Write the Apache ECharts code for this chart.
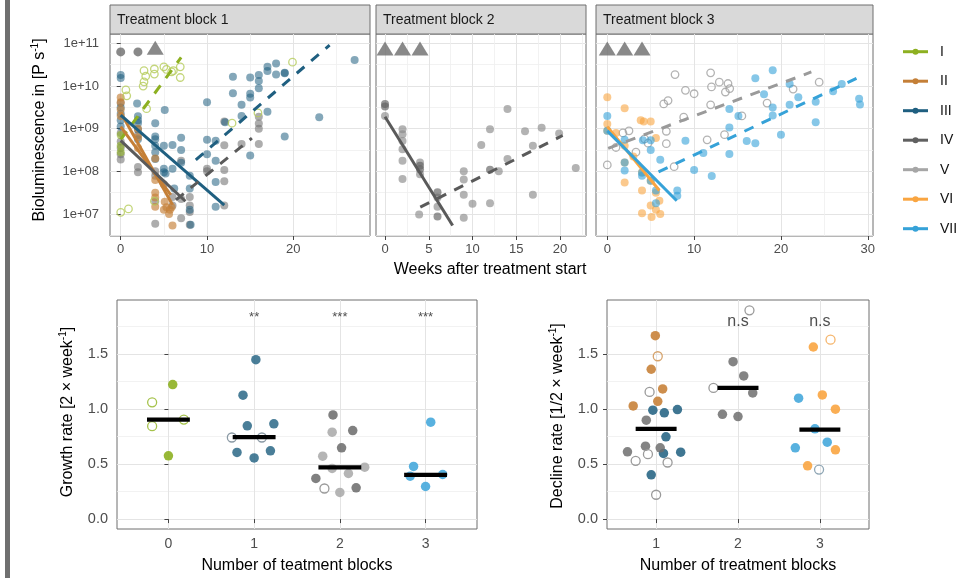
<!DOCTYPE html>
<html>
<head>
<meta charset="utf-8">
<script src="https://cdn.jsdelivr.net/npm/echarts@6/dist/echarts.min.js"></script>
<style>
html, body { margin: 0; padding: 0; background: #fff; }
#chart { width: 970px; height: 578px; }
</style>
</head>
<body>
<div id="chart"></div>
<script>
// ---- groups ----
var groupNames = ['I', 'II', 'III', 'IV', 'V', 'VI', 'VII'];
var groupColors = ['#8db021', '#c47f37', '#1f5f80', '#606060', '#a6a6a6', '#f9a541', '#36a2d8'];

// ---- top panels: [weeks, log10(bioluminescence)] ----
var b1_I = [[0, 8.45], [0, 8.6], [0, 8.85]];
var b1_I_open = [[2.7, 10.36], [2.9, 10.23], [2.7, 10.1], [2.6, 10.0], [3.9, 10.4], [3.9, 10.28], [5.0, 10.45], [5.3, 10.39],
  [5.9, 10.33], [6.1, 10.36], [6.9, 10.45], [6.9, 10.2], [0.6, 9.91], [0.7, 9.77], [3.0, 9.47], [0.0, 7.04], [0.9, 7.12],
  [19.9, 10.56], [15.9, 9.37], [12.9, 9.13], [3.9, 7.3]];
var b1_II = [[0, 9.73], [0, 9.62], [0, 9.45], [0, 9.3], [2, 9.0], [2, 8.8], [2, 8.55], [4, 8.3], [4, 7.8], [4, 7.39], [4, 7.17],
  [4, 7.5], [5.1, 7.29], [5, 7.1], [5.3, 7.16], [5.7, 7.1], [5.9, 7.16], [6, 6.73], [5.6, 7.0]];
var b1_III = [[0, 10.26], [0, 10.19], [0, 9.5], [0, 9.35], [0, 9.2], [0, 9.05], [1.9, 9.59], [2, 9.29], [2, 9.13], [2, 8.98],
  [2, 8.75], [2, 9.2], [4, 9.13], [4, 8.82], [4, 8.75], [4, 8.6], [4, 8.29], [4, 8.45], [5.1, 9.44], [5, 8.6], [5, 8.06],
  [5, 7.98], [5.2, 7.95], [6, 8.62], [6, 8.06], [6.2, 7.6], [7, 8.79], [7, 8.5], [7, 8.2], [8, 7.9], [8, 7.6], [8, 7.1],
  [8.1, 6.75], [10, 9.62], [10, 8.74], [10, 8.4], [11, 8.72], [11, 8.25], [11, 7.75], [11, 7.17], [12.1, 9.15], [13, 10.22],
  [13, 9.83], [14, 9.56], [14, 9.3], [15, 10.2], [15, 9.82], [15, 9.73], [15, 8.37], [16, 10.26], [16, 10.12], [16, 9.95],
  [17, 10.45], [17, 10.35], [17, 9.4], [18, 10.53], [18, 10.27], [19, 10.31], [19, 10.3], [19, 8.82], [23, 9.27], [27.1, 10.61]];
var b1_IV = [[0, 9.6], [0, 8.9], [0, 8.55], [0, 8.4], [0, 8.28], [0, 8.7], [2, 8.1], [2, 7.98], [2, 8.85], [4, 8.0], [4, 7.9],
  [4, 6.77], [4, 7.3], [5, 7.7], [6, 7.4], [6, 7.2], [7, 8.25], [7, 7.35], [7, 6.9], [8, 7.4], [8, 7.2], [8, 7.05], [8, 6.75],
  [10, 8.06], [10, 8.0], [12, 9.17], [12, 8.61], [12, 8.03], [12, 7.77], [12, 7.2], [14, 8.64], [16, 9.12], [16, 9.0],
  [16, 8.64], [16, 9.28]];
var b1_I_fit = [[0, 8.75], [7, 10.67]];
var b1_II_fitA = [[0, 9.38], [6, 7.22]];
var b1_II_fitB = [[0, 9.05], [5.8, 7.45]];
var b1_III_decline = [[0, 9.32], [12, 7.21]];
var b1_III_growth = [[8.7, 8.27], [24.2, 10.96]];
var b1_IV_decline = [[0, 8.72], [7.5, 7.3]];
var b1_IV_growth = [[6.4, 7.33], [15.2, 8.78]];
var b1_circles = [0, 2];
var b1_triangles = [4];

var b2_IV = [[0, 9.58], [0, 9.52], [4, 8.13], [4, 8.05], [6, 6.94], [12, 8.04], [6, 7.51]];
var b2_V = [[0, 9.3], [2, 8.99], [2, 8.87], [2, 8.71], [2, 8.52], [2, 8.25], [2, 7.82], [4, 8.21], [4, 7.93], [6, 7.39],
  [6, 7.17], [3.9, 6.99], [9, 8.0], [9, 7.81], [9, 7.45], [9, 6.91], [10, 7.24], [11, 8.62], [12, 8.99], [12, 7.25],
  [13, 8.0], [14, 9.46], [14, 8.29], [16, 8.94], [16.9, 8.6], [16.9, 7.45], [17.9, 9.02], [19.9, 8.89], [21.8, 8.08]];
var b2_IV_decline = [[0, 9.28], [7.73, 6.73]];
var b2_IV_growth = [[4.03, 7.16], [20.3, 8.84]];
var b2_triangles = [0, 2, 4];

var b3_VI = [[0, 9.74], [0, 9.11], [0, 8.95], [2, 9.48], [3.85, 9.2], [4.2, 9.17], [5, 9.17], [5.6, 8.78], [2, 8.21], [2, 7.74],
  [4, 7.98], [5, 7.78], [4, 7.55], [5.6, 7.5], [6, 7.31], [5, 7.2], [5.6, 7.1], [4, 7.02], [5.1, 6.93], [6.1, 7.0], [1, 8.9],
  [2, 8.6], [3, 8.35]];
var b3_VII = [[0, 9.3], [0, 8.95], [2, 8.74], [2, 8.21], [2, 8.02], [4.1, 8.73], [5, 8.73], [5, 8.5], [6.1, 8.27], [4, 7.97],
  [4, 7.9], [5, 7.78], [5.6, 7.55], [5.6, 7.25], [8.06, 7.55], [8.06, 7.43], [9, 8.72], [10, 8.03], [11.06, 8.43], [12.03, 7.89],
  [14.06, 9.46], [14.06, 9.03], [14.06, 8.41], [15.1, 9.3], [16.06, 8.71], [17.05, 10.18], [17.05, 8.66], [18.05, 9.81],
  [19.05, 10.37], [19.05, 9.5], [19.05, 9.31], [20, 8.86], [21, 10.05], [21, 9.56], [22, 9.74], [24, 9.63], [24, 9.15],
  [26, 9.88], [27, 10.05], [29, 9.7], [29.1, 9.57]];
var b3_V_open = [[0, 8.15], [1, 8.56], [2.5, 8.95], [1.8, 8.9], [3.3, 8.45], [4.3, 8.76], [4.7, 8.66], [6.5, 9.58], [7, 9.66],
  [7.8, 10.27], [6.8, 8.94], [6.8, 8.65], [7.7, 8.11], [9, 9.9], [8.8, 9.27], [11.9, 10.31], [12, 9.98], [12.9, 10.09],
  [13.9, 10.06], [13.6, 9.86], [14.1, 9.94], [11.9, 9.56], [11.5, 8.74], [13.5, 8.86], [10, 9.82], [15.5, 9.3], [18.4, 9.6],
  [21.4, 9.93], [24.4, 10.09]];
var b3_VI_decline = [[0, 9.05], [6, 7.55]];
var b3_VII_decline = [[0, 8.95], [8, 7.31]];
var b3_V_growth = [[0.1, 8.54], [23.5, 10.33]];
var b3_VII_growth = [[5.9, 7.99], [28.7, 10.18]];
var b3_triangles = [0, 2, 4];

// ---- bottom left: growth rate, [jittered number of blocks, rate] ----
var growth_I = [[0.05, 1.222], [0.0, 0.575]];
var growth_I_open = [[-0.19, 1.061], [-0.19, 0.844], [0.18, 0.904]];
var growth_III = [[1.02, 1.448], [0.87, 1.125], [0.92, 0.847], [1.23, 0.865], [0.80, 0.605], [1.0, 0.556], [1.19, 0.62]];
var growth_III_open = [[0.74, 0.741], [1.09, 0.741]];
var growth_IV = [[1.92, 0.946], [2.15, 0.804], [2.02, 0.647], [1.72, 0.369], [2.19, 0.284]];
var growth_V = [[1.91, 0.789], [1.8, 0.571], [1.91, 0.46], [2.1, 0.414], [2.29, 0.472], [2.0, 0.242]];
var growth_V_open = [[1.82, 0.278]];
var growth_VII = [[3.06, 0.88], [2.86, 0.478], [2.82, 0.39], [3.2, 0.405], [3.0, 0.296]];
var growthCats = [0, 1, 2, 3];
var growthMedian = [0.904, 0.744, 0.469, 0.402];
var growthSig = ['', '**', '***', '***'];

// ---- bottom right: decline rate ----
var decline_II = [[0.99, 1.666], [0.94, 1.361], [1.08, 1.182], [1.02, 1.07], [0.72, 1.028]];
var decline_II_open = [[1.02, 1.479]];
var decline_III = [[0.96, 0.989], [1.10, 0.965], [1.26, 0.995], [1.12, 0.747], [1.09, 0.596], [1.30, 0.608], [0.94, 0.402]];
var decline_IV = [[0.88, 0.898], [0.87, 0.662], [1.05, 0.647], [0.65, 0.611], [1.94, 1.43], [2.07, 1.30], [2.18, 1.146],
  [1.81, 0.952], [2.0, 0.931]];
var decline_V_open = [[0.92, 1.155], [0.90, 0.59], [0.75, 0.529], [1.14, 0.514], [1.0, 0.221], [2.14, 1.896], [1.70, 1.191]];
var decline_VI = [[2.92, 1.563], [3.03, 1.128], [3.19, 0.998], [3.19, 0.629], [2.85, 0.484]];
var decline_VI_open = [[3.13, 1.63]];
var decline_VII = [[2.74, 1.098], [2.94, 0.82], [2.70, 0.647], [3.09, 0.699]];
var decline_VII_open = [[2.99, 0.45]];
var declineCats = [1, 2, 3];
var declineMedian = [0.819, 1.191, 0.813];
var declineSig = ['', 'n.s', 'n.s'];

// ---- axes ----
var topYMajor = [7, 8, 9, 10, 11];
var topYMinor = [6.5, 7.5, 8.5, 9.5, 10.5];
var botYMajor = [0, 0.5, 1, 1.5];
var botYMinor = [0.25, 0.75, 1.25, 1.75];

var FONT = "'Liberation Sans', Arial, sans-serif";
var C = {};
groupNames.forEach(function (n, i) { C[n] = groupColors[i]; });

var grids = [
  {left: 110, top: 34, width: 260, height: 202},
  {left: 376, top: 34, width: 210, height: 202},
  {left: 596, top: 34, width: 277, height: 202},
  {left: 117, top: 300, width: 360, height: 229},
  {left: 607, top: 300, width: 262, height: 229}
];
var xRange = [[-1.24, 28.88], [-1.03, 22.97], [-1.3, 30.6], [-0.6, 3.6], [0.4, 3.6]];
var xMajor = [[0, 10, 20], [0, 5, 10, 15, 20], [0, 10, 20, 30], growthCats, declineCats];
var xMinor = [[5, 15, 25], [2.5, 7.5, 12.5, 17.5, 22.5], [5, 15, 25], null, null];

var xAxes = [], yAxes = [];
grids.forEach(function (g, gi) {
  g.show = true;
  g.backgroundColor = '#fff';
  g.borderColor = '#6e6e6e';
  g.borderWidth = 1;
  g.containLabel = false;
  var top = gi < 3;
  // major x
  xAxes.push({
    type: 'value', gridIndex: gi, min: xRange[gi][0], max: xRange[gi][1],
    axisLine: {show: false},
    axisTick: {show: true, length: 4, customValues: xMajor[gi], lineStyle: {color: '#444'}},
    axisLabel: {customValues: xMajor[gi], color: '#4d4d4d', fontSize: top ? 13 : 14, fontFamily: FONT, margin: top ? 7 : 8},
    splitLine: {show: true, lineStyle: {color: '#e4e4e4', width: 1}}
  });
  // minor x
  xAxes.push({
    type: 'value', gridIndex: gi, min: xRange[gi][0], max: xRange[gi][1],
    axisLine: {show: false},
    axisTick: {show: false, customValues: xMinor[gi] || []},
    axisLabel: {show: false},
    splitLine: {show: !!xMinor[gi], lineStyle: {color: '#efefef', width: 0.8}}
  });
  var yMaj = top ? topYMajor : botYMajor;
  var yMin = top ? topYMinor : botYMinor;
  var showY = gi === 0 || gi > 2;
  yAxes.push({
    type: 'value', gridIndex: gi, min: top ? 6.485 : -0.09, max: top ? 11.22 : 1.99,
    axisLine: {show: false},
    axisTick: {show: showY, length: 4, customValues: yMaj, lineStyle: {color: '#444'}},
    axisLabel: {
      show: showY, customValues: yMaj, color: '#4d4d4d', fontSize: top ? 13 : 14.5, fontFamily: FONT, margin: top ? 11 : 9,
      formatter: top ? function (v) { return '1e+' + (v < 10 ? '0' + v : v); } : function (v) { return v.toFixed(1); }
    },
    splitLine: {show: true, lineStyle: {color: '#e4e4e4', width: 1}}
  });
  yAxes.push({
    type: 'value', gridIndex: gi, min: top ? 6.485 : -0.09, max: top ? 11.22 : 1.99,
    axisLine: {show: false},
    axisTick: {show: false, customValues: yMin},
    axisLabel: {show: false},
    splitLine: {show: true, lineStyle: {color: '#efefef', width: 0.8}}
  });
});

var series = [];
function pts(gi, data, color, open, size, alpha) {
  series.push({
    type: 'scatter', xAxisIndex: gi * 2, yAxisIndex: gi * 2, data: data, symbolSize: size, silent: true, z: 3,
    itemStyle: open
      ? {color: 'rgba(255,255,255,0)', borderColor: color, borderWidth: 1.3, opacity: Math.min(1, alpha + 0.2)}
      : {color: color, opacity: alpha}
  });
}
function fit(gi, data, color, dashed) {
  series.push({
    type: 'line', xAxisIndex: gi * 2, yAxisIndex: gi * 2, data: data, symbol: 'none', silent: true, z: 4,
    lineStyle: {color: color, width: 3, type: dashed ? [10, 9] : 'solid', cap: 'butt'}
  });
}
function markers(gi, weeks, shape, level) {
  series.push({
    type: 'scatter', xAxisIndex: gi * 2, yAxisIndex: gi * 2, silent: true, z: 5,
    data: weeks.map(function (w) { return [w, level]; }),
    symbol: shape, symbolSize: shape === 'triangle' ? [17, 14] : 9,
    itemStyle: {color: '#6b6b6b'}
  });
}

// block 1
pts(0, b1_IV, '#6a6a6a', false, 8, 0.55);
pts(0, b1_III, C.III, false, 8, 0.55);
pts(0, b1_II, C.II, false, 8, 0.65);
pts(0, b1_I, C.I, false, 8, 0.6);
pts(0, b1_I_open, '#b5cc5a', true, 7.5, 0.6);
fit(0, b1_I_fit, C.I, true);
fit(0, b1_II_fitA, C.II, false);
fit(0, b1_II_fitB, C.II, false);
fit(0, b1_III_decline, C.III, false);
fit(0, b1_III_growth, C.III, true);
fit(0, b1_IV_decline, '#5a5a5a', false);
fit(0, b1_IV_growth, '#5a5a5a', true);
markers(0, b1_circles, 'circle', 10.8);
markers(0, b1_triangles, 'triangle', 10.9);

// block 2
pts(1, b2_V, '#8a8a8a', false, 8, 0.65);
pts(1, b2_IV, '#5f5f5f', false, 8, 0.65);
fit(1, b2_IV_decline, '#5a5a5a', false);
fit(1, b2_IV_growth, '#5a5a5a', true);
markers(1, b2_triangles, 'triangle', 10.88);

// block 3
pts(2, b3_V_open, '#9a9a9a', true, 7.5, 0.55);
pts(2, b3_VI, C.VI, false, 8, 0.6);
pts(2, b3_VII, C.VII, false, 8, 0.6);
fit(2, b3_VI_decline, C.VI, false);
fit(2, b3_VII_decline, C.VII, false);
fit(2, b3_V_growth, '#9a9a9a', true);
fit(2, b3_VII_growth, C.VII, true);
markers(2, b3_triangles, 'triangle', 10.88);

// growth rate
pts(3, growth_I, C.I, false, 9.5, 0.9);
pts(3, growth_I_open, '#a5c24a', true, 9, 0.8);
pts(3, growth_III, '#2a6786', false, 9.5, 0.85);
pts(3, growth_III_open, '#8b9aa5', true, 9, 0.8);
pts(3, growth_IV, '#6a6a6a', false, 9.5, 0.85);
pts(3, growth_V, '#a8a8a8', false, 9.5, 0.85);
pts(3, growth_V_open, '#9a9a9a', true, 9, 0.8);
pts(3, growth_VII, '#46a9dc', false, 9.5, 0.9);

// decline rate
pts(4, decline_II, '#c8823a', false, 9.5, 0.9);
pts(4, decline_II_open, '#d6a36c', true, 9, 0.8);
pts(4, decline_III, '#2a6786', false, 9.5, 0.9);
pts(4, decline_IV, '#6f6f6f', false, 9.5, 0.85);
pts(4, decline_V_open, '#9a9a9a', true, 9, 0.8);
pts(4, decline_VI, '#f9a541', false, 9.5, 0.9);
pts(4, decline_VI_open, '#f5b56c', true, 9, 0.8);
pts(4, decline_VII, '#46a9dc', false, 9.5, 0.9);
pts(4, decline_VII_open, '#8fa6b5', true, 9, 0.8);

function medians(gi, cats, vals) {
  cats.forEach(function (c, i) {
    series.push({
      type: 'line', xAxisIndex: gi * 2, yAxisIndex: gi * 2, symbol: 'none', silent: true, z: 6,
      data: [[c - 0.25, vals[i]], [c + 0.25, vals[i]]],
      lineStyle: {color: '#000', width: 4.3, cap: 'butt'}
    });
  });
}
function sig(gi, cats, labels, level, size) {
  series.push({
    type: 'scatter', xAxisIndex: gi * 2, yAxisIndex: gi * 2, silent: true, z: 6, symbolSize: 1,
    itemStyle: {color: 'rgba(0,0,0,0)'},
    data: cats.map(function (c, i) { return {value: [c, level], name: labels[i]}; }),
    label: {show: true, position: 'inside', formatter: '{b}', color: '#222', fontSize: size, fontFamily: FONT}
  });
}
medians(3, growthCats, growthMedian);
medians(4, declineCats, declineMedian);
sig(3, growthCats, growthSig, 1.83, 13);
sig(4, declineCats, declineSig, 1.79, 16);

// ---- graphics: strips, titles, legend ----
var graphics = [];
graphics.push({type: 'rect', shape: {x: 5, y: 0, width: 5, height: 578}, style: {fill: '#707070'}, silent: true});
var strips = ['Treatment block 1', 'Treatment block 2', 'Treatment block 3'];
strips.forEach(function (s, i) {
  var g = grids[i];
  graphics.push({type: 'rect', shape: {x: g.left, y: 5, width: g.width, height: 29},
    style: {fill: '#d9d9d9', stroke: '#6e6e6e', lineWidth: 1}, silent: true});
  graphics.push({type: 'text', x: g.left + 7, y: 20, silent: true,
    style: {text: s, fill: '#1a1a1a', fontSize: 14, fontFamily: FONT, verticalAlign: 'middle'}});
});
function title(x, y, parts, rot) {
  graphics.push({type: 'text', x: x, y: y, rotation: rot || 0, silent: true,
    style: {text: parts, fill: '#000', fontSize: 16, fontFamily: FONT, align: 'center', verticalAlign: 'middle', lineHeight: 20,
      rich: {sup: {fontSize: 10, fontFamily: FONT, fill: '#000', verticalAlign: 'top', lineHeight: 11}}}});
}
title(490, 270, 'Weeks after treatment start');
title(40, 130, 'Bioluminescence in [P s{sup|-1}]', Math.PI / 2);
title(297, 566, 'Number of teatment blocks');
title(738, 566, 'Number of treatment blocks');
title(68, 412, 'Growth rate [2 \u00d7 week{sup|-1}]', Math.PI / 2);
title(558, 416, 'Decline rate [1/2 \u00d7 week{sup|-1}]', Math.PI / 2);

groupNames.forEach(function (n, i) {
  var y = 51.7 + i * 29.5;
  graphics.push({type: 'line', shape: {x1: 903, y1: y, x2: 928, y2: y}, style: {stroke: groupColors[i], lineWidth: 3}, silent: true});
  graphics.push({type: 'circle', shape: {cx: 915.5, cy: y, r: 3}, style: {fill: groupColors[i]}, silent: true});
  graphics.push({type: 'text', x: 940, y: y, silent: true,
    style: {text: n, fill: '#111', fontSize: 14, fontFamily: FONT, verticalAlign: 'middle'}});
});

var chart = echarts.init(document.getElementById('chart'));
chart.setOption({
  animation: false,
  backgroundColor: '#fff',
  grid: grids,
  xAxis: xAxes,
  yAxis: yAxes,
  series: series,
  graphic: graphics
});
</script>
</body>
</html>
